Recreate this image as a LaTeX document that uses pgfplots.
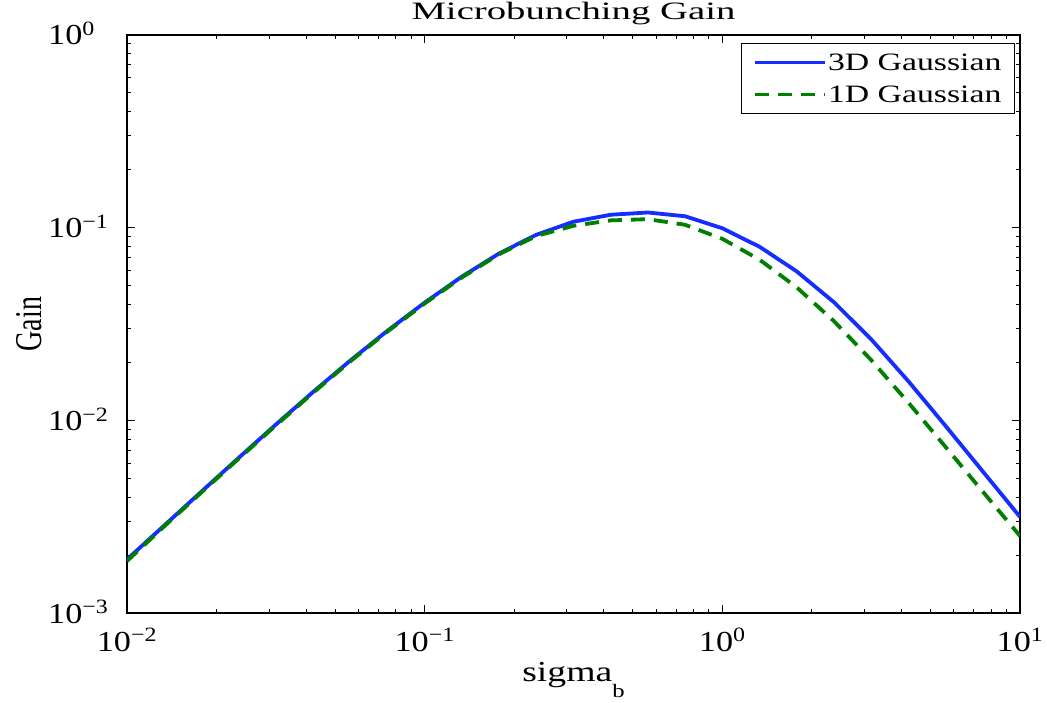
\documentclass[border=0pt]{standalone}
\usepackage{graphicx}
\usepackage{fontspec}
\setmainfont{Liberation Serif}[FakeStretch=1.18]
\newfontfamily\titlefont{Liberation Serif}[FakeStretch=1.55]
\newfontfamily\legfont{Liberation Serif}[FakeStretch=1.35]
\newfontfamily\xlabfont{Liberation Serif}[FakeStretch=1.3]
\newfontfamily\plainfont{Liberation Serif}
\usepackage{pgfplots}
\pgfplotsset{compat=1.18}
\definecolor{mblue}{rgb}{0.08,0.18,1}
\definecolor{mgreen}{rgb}{0,0.5,0}
\begin{document}
\begin{tikzpicture}
\useasboundingbox (-127pt,-89pt) rectangle (920pt,613pt);
\begin{axis}[
  xmode=log, ymode=log,
  scale only axis, width=893pt, height=578pt,
  xmin=0.01, xmax=10, ymin=0.001, ymax=1,
  xtick={0.01,0.1,1,10},
  xticklabels={10\textsuperscript{−2},10\textsuperscript{−1},10\textsuperscript{0},10\textsuperscript{1}},
  ytick={0.001,0.01,0.1,1},
  yticklabels={10\textsuperscript{−3},10\textsuperscript{−2},10\textsuperscript{−1},10\textsuperscript{0}},
  tick label style={font=\fontsize{29}{34}\selectfont, inner sep=0pt},
  xticklabel style={anchor=base, yshift=-38pt},
  yticklabel style={anchor=base west, xshift=-79pt, yshift=-10pt},
  major tick length=8pt, minor tick length=4.5pt,
  tick align=inside,
  every tick/.style={black, line width=1pt},
  axis line style={line width=1.5pt},
  title={Microbunching Gain},
  title style={font=\titlefont\fontsize{25}{30}\selectfont, at={(axis description cs:0.5,1)}, anchor=base, yshift=9pt, inner sep=0pt},
  xlabel={sigma\raisebox{-16pt}{\fontsize{19}{22}\selectfont b}},
  xlabel style={font=\xlabfont\fontsize{29}{34}\selectfont, at={(axis description cs:0.5,0)}, anchor=base, yshift=-68pt, inner sep=0pt},
  ylabel={\scalebox{1}[1.35]{\plainfont Gain}},
  ylabel style={font=\fontsize{28}{34}\selectfont, at={(axis description cs:-0.1097,0.5)}, anchor=center, inner sep=0pt},
  legend style={at={(1,1)}, anchor=north east, xshift=-5pt, yshift=-8pt, draw=black, line width=1pt,
    font=\legfont\fontsize{25}{26}\selectfont, inner xsep=12pt, inner ysep=9pt,
    nodes={inner sep=1pt}, row sep=12pt},
  legend cell align=left,
  legend image code/.code={\draw[#1] (0pt,0pt) -- (70pt,0pt);},
]
\addplot[mblue, line width=3.8pt, line join=round] coordinates {
(0.01,1.897e-3) (0.013335,2.844e-3) (0.017783,4.266e-3) (0.023714,6.383e-3)
(0.031623,9.506e-3) (0.04217,0.01403) (0.056234,0.02042) (0.074989,0.02917)
(0.1,0.04083) (0.13335,0.05572) (0.17783,0.07345) (0.23714,0.09183)
(0.31623,0.1074) (0.4217,0.1167) (0.56234,0.1199) (0.74989,0.1146)
(1,0.09931) (1.3335,0.07962) (1.7783,0.05929) (2.3714,0.04102)
(3.1623,0.02636) (4.217,0.01596) (5.6234,0.009354) (7.4989,0.005433) (10,0.003155)
};
\addlegendentry{3D Gaussian}
\addplot[mgreen, line width=3.8pt, dash pattern=on 14pt off 9pt] coordinates {
(0.01,1.86e-3) (0.013335,2.815e-3) (0.017783,4.225e-3) (0.023714,6.32e-3)
(0.031623,9.41e-3) (0.04217,0.01389) (0.056234,0.02022) (0.074989,0.02888)
(0.1,0.04042) (0.13335,0.05516) (0.17783,0.07278) (0.23714,0.09057)
(0.31623,0.1023) (0.4217,0.1091) (0.56234,0.1107) (0.74989,0.1035)
(1,0.08750) (1.3335,0.06823) (1.7783,0.04898) (2.3714,0.03273)
(3.1623,0.02056) (4.217,0.01236) (5.6234,0.007278) (7.4989,0.004266) (10,0.002512)
};
\addlegendentry{1D Gaussian}
\end{axis}
\end{tikzpicture}
\end{document}
